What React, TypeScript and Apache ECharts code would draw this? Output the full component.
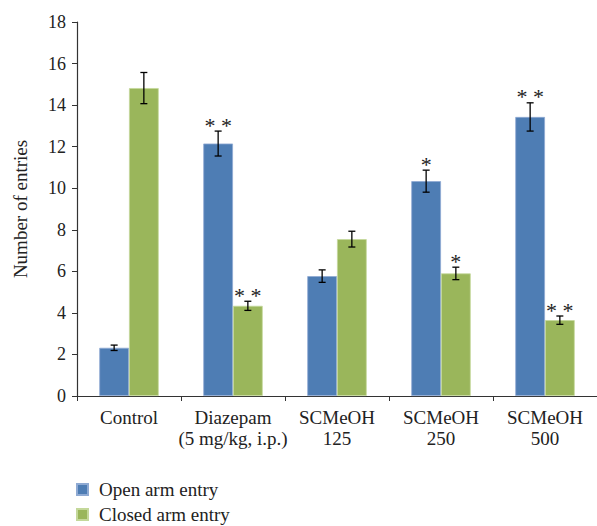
import React, { useEffect, useRef } from "react";
import * as echarts from "echarts";

const categories = ["Control", "Diazepam\n(5 mg/kg, i.p.)", "SCMeOH\n125", "SCMeOH\n250", "SCMeOH\n500"];
const openArm = [2.32, 12.15, 5.77, 10.34, 13.43];
const openArmErr = [0.13, 0.6, 0.3, 0.53, 0.68];
const openArmSig = ["", "* *", "", "*", "* *"];
const closedArm = [14.82, 4.34, 7.55, 5.9, 3.65];
const closedArmErr = [0.75, 0.22, 0.38, 0.3, 0.2];
const closedArmSig = ["", "* *", "", "*", "* *"];
const seriesNames = ["Open arm entry", "Closed arm entry"];
const yTicks = { min: 0, max: 18, interval: 2 };

const BLUE = "#4E7DB4";
const GREEN = "#9AB65B";
const FONT = "Liberation Serif";
const BAR_FRAC = 30 / 105;

function errSeries(values: number[], errs: number[], sig: string[], sign: number) {
  return {
    type: "custom",
    silent: true,
    z: 5,
    data: values.map((v, i) => [i, v, errs[i]]),
    renderItem: (params: any, api: any) => {
      const i = api.value(0);
      const v = api.value(1);
      const e = api.value(2);
      const band = api.size([1, 0])[0];
      const off = (sign * band * BAR_FRAC) / 2;
      const top = api.coord([i, v + e]);
      const bot = api.coord([i, v - e]);
      const x = top[0] + off;
      const cap = 3.5;
      const style = { stroke: "#000", lineWidth: 1.3 };
      const children: any[] = [
        { type: "line", shape: { x1: x, y1: top[1], x2: x, y2: bot[1] }, style },
        { type: "line", shape: { x1: x - cap, y1: top[1], x2: x + cap, y2: top[1] }, style },
        { type: "line", shape: { x1: x - cap, y1: bot[1], x2: x + cap, y2: bot[1] }, style },
      ];
      const s = sig[params.dataIndex];
      if (s) {
        children.push({
          type: "text",
          x: x,
          y: top[1] + 5,
          style: {
            text: s,
            fontFamily: FONT,
            fontSize: 22,
            fill: "#222",
            align: "center",
            verticalAlign: "bottom",
          },
        });
      }
      return { type: "group", children };
    },
  };
}

export default function App() {
  const ref = useRef<HTMLDivElement>(null);
  useEffect(() => {
    if (!ref.current) return;
    const chart = echarts.init(ref.current, undefined, { renderer: "svg" });
    chart.setOption({
      animation: false,
      backgroundColor: "#fff",
      textStyle: { fontFamily: FONT },
      grid: { left: 77, right: -5, top: 22, bottom: 130, containLabel: false },
      legend: {
        orient: "vertical",
        left: 76,
        top: 480,
        padding: 0,
        itemWidth: 11,
        itemHeight: 11,
        itemGap: 6,
        icon: "rect",
        textStyle: { fontFamily: FONT, fontSize: 19, color: "#222", padding: [0, 0, 0, 6] },
        data: seriesNames,
      },
      xAxis: {
        type: "category",
        data: categories,
        axisLine: { lineStyle: { color: "#333", width: 1.2 } },
        axisTick: { show: true, length: 5, lineStyle: { color: "#333" } },
        axisLabel: { interval: 0, fontFamily: FONT, fontSize: 19, color: "#222", margin: 11, lineHeight: 21 },
      },
      yAxis: {
        type: "value",
        min: yTicks.min,
        max: yTicks.max,
        interval: yTicks.interval,
        name: "Number of entries",
        nameLocation: "middle",
        nameGap: 47,
        nameTextStyle: { fontFamily: FONT, fontSize: 19, color: "#222" },
        splitLine: { show: false },
        axisLine: { show: true, lineStyle: { color: "#333", width: 1.2 } },
        axisTick: { show: true, length: 5, lineStyle: { color: "#333" } },
        axisLabel: { fontFamily: FONT, fontSize: 18, color: "#222", margin: 11 },
      },
      series: [
        {
          name: seriesNames[0],
          type: "bar",
          data: openArm,
          barWidth: (BAR_FRAC * 100).toFixed(2) + "%",
          barGap: "0%",
          itemStyle: { color: BLUE, borderColor: "#8FAAD3", borderWidth: 0.8 },
        },
        {
          name: seriesNames[1],
          type: "bar",
          data: closedArm,
          barWidth: (BAR_FRAC * 100).toFixed(2) + "%",
          barGap: "0%",
          itemStyle: { color: GREEN, borderColor: "#C4D89A", borderWidth: 0.8 },
        },
        errSeries(openArm, openArmErr, openArmSig, -1),
        errSeries(closedArm, closedArmErr, closedArmSig, 1),
      ],
    });
    return () => chart.dispose();
  }, []);
  return <div ref={ref} style={{ position: "fixed", left: 0, top: 0, width: 597, height: 526 }} />;
}
